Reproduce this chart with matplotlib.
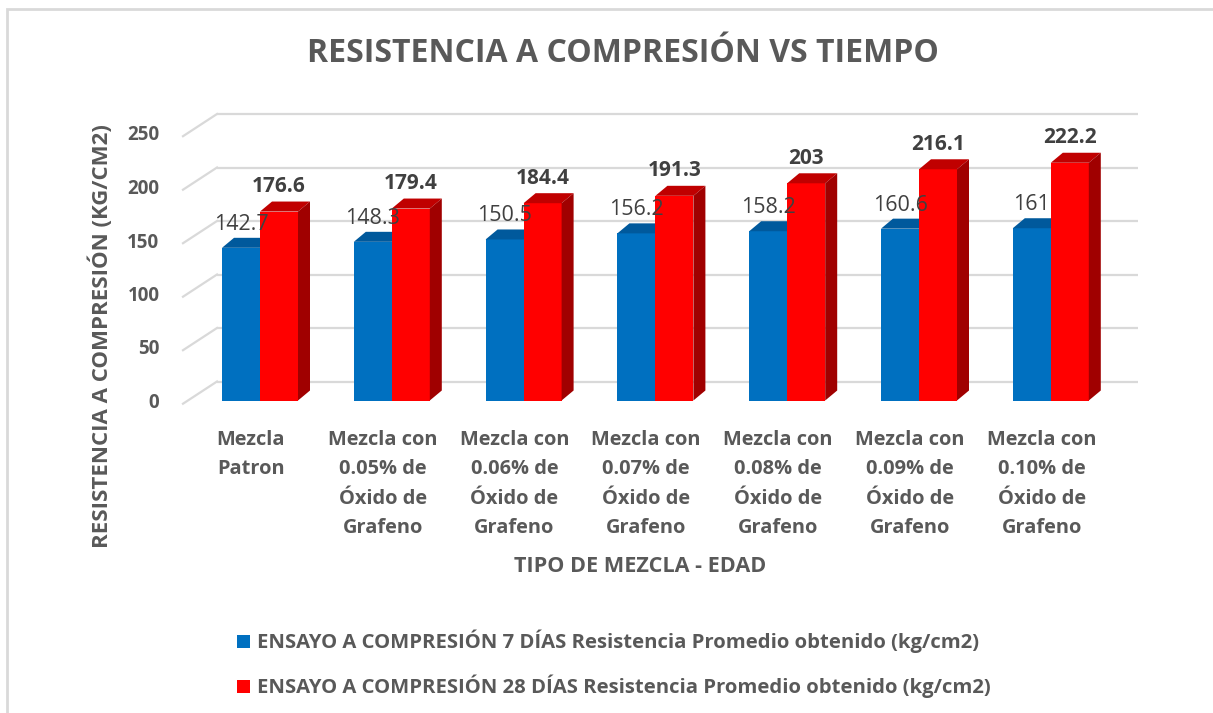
import matplotlib
matplotlib.use("Agg")
import matplotlib.pyplot as plt
from matplotlib.patches import Polygon, Rectangle
import numpy as np

plt.rcParams['font.family'] = ['Open Sans', 'DejaVu Sans']

categories = ["Mezcla\nPatron",
              "Mezcla con\n0.05% de\nÓxido de\nGrafeno",
              "Mezcla con\n0.06% de\nÓxido de\nGrafeno",
              "Mezcla con\n0.07% de\nÓxido de\nGrafeno",
              "Mezcla con\n0.08% de\nÓxido de\nGrafeno",
              "Mezcla con\n0.09% de\nÓxido de\nGrafeno",
              "Mezcla con\n0.10% de\nÓxido de\nGrafeno"]
dias7 = [142.7, 148.3, 150.5, 156.2, 158.2, 160.6, 161]
dias28 = [176.6, 179.4, 184.4, 191.3, 203, 216.1, 222.2]
labels7 = ["142.7", "148.3", "150.5", "156.2", "158.2", "160.6", "161"]
labels28 = ["176.6", "179.4", "184.4", "191.3", "203", "216.1", "222.2"]
yticks = [0, 50, 100, 150, 200, 250]
series_names = ["ENSAYO A COMPRESIÓN 7 DÍAS Resistencia Promedio obtenido (kg/cm2)",
                "ENSAYO A COMPRESIÓN 28 DÍAS Resistencia Promedio obtenido (kg/cm2)"]

W, H = 1213, 713
fig = plt.figure(figsize=(W / 100, H / 100), dpi=100)
fig.patch.set_facecolor('white')

# border
fig.add_artist(Rectangle((7 / W, -0.05), 1.2, (H - 9) / H + 0.05, transform=fig.transFigure,
                         fill=False, ec='#d9d9d9', lw=2))

# axes geometry (pixels)
px_per_cat = 131.8
px_per_unit = 1.07
x0_cat_px = 260.0
left_px, right_px = 183.0, 1104.0
zero_px = 400.5
ymax = 270
ax = fig.add_axes([left_px / W, (H - zero_px) / H, (right_px - left_px) / W, ymax * px_per_unit / H])
xlim = ((left_px - x0_cat_px) / px_per_cat, (right_px - x0_cat_px) / px_per_cat)
ax.set_xlim(*xlim)
ax.set_ylim(0, ymax)
for s in ax.spines.values():
    s.set_visible(False)
ax.patch.set_alpha(0)

# depth offsets of the walls and bars (converted to data units)
wdx = 34 / px_per_cat
wdy = 19 / px_per_unit
bdx = 12 / px_per_cat
bdy = 10 / px_per_unit

grid_c = '#d9d9d9'
for v in yticks:
    ax.plot([xlim[0] + wdx, xlim[1] + wdx], [v + wdy, v + wdy], color=grid_c, lw=1.6,
            clip_on=False, zorder=0, solid_capstyle='butt')
    ax.plot([xlim[0], xlim[0] + wdx], [v - 3, v + wdy], color=grid_c, lw=1.6,
            clip_on=False, zorder=0)

x = np.arange(len(categories))
bw = 38 / px_per_cat
blue, blue_top = '#0070C0', '#00599C'
red, red_top, red_side = '#FF0000', '#C00000', '#A00000'

bars7 = ax.bar(x - bw, dias7, width=bw, align='edge', color=blue, zorder=2, clip_on=False)
for xi, h in zip(x - bw, dias7):
    ax.add_patch(Polygon([(xi, h), (xi + bw, h), (xi + bw + bdx, h + bdy), (xi + bdx, h + bdy)],
                         closed=True, fc=blue_top, ec='none', zorder=2, clip_on=False))
bars28 = ax.bar(x, dias28, width=bw, align='edge', color=red, zorder=3, clip_on=False)
for xi, h in zip(x, dias28):
    ax.add_patch(Polygon([(xi, h), (xi + bw, h), (xi + bw + bdx, h + bdy), (xi + bdx, h + bdy)],
                         closed=True, fc=red_top, ec='none', zorder=3, clip_on=False))
    ax.add_patch(Polygon([(xi + bw, 0), (xi + bw + bdx, bdy), (xi + bw + bdx, h + bdy), (xi + bw, h)],
                         closed=True, fc=red_side, ec='none', zorder=3, clip_on=False))

txt_c = '#404040'
for xi, h, lab in zip(x - bw / 2, dias7, labels7):
    ax.annotate(lab, (xi, h), xytext=(0, 17), textcoords='offset points', ha='center', va='center',
                fontsize=15.5, color=txt_c, zorder=5)
for xi, h, lab in zip(x + bw / 2, dias28, labels28):
    ax.annotate(lab, (xi, h), xytext=(0, 18), textcoords='offset points', ha='center', va='center',
                fontsize=15, fontweight='bold', color=txt_c, zorder=5)

gray = '#595959'
ax.set_yticks(yticks)
ax.set_yticklabels([str(t) for t in yticks], fontsize=13.5, fontweight='bold', color=gray)
ax.tick_params(axis='y', length=0, pad=17)
ax.set_xticks(x - 0.07)
ax.set_xticklabels(categories, fontsize=14.4, fontweight='bold', color=gray, linespacing=1.64,
                   va='top')
ax.tick_params(axis='x', length=0, pad=21)

fig.text(623 / W, 1 - 53 / H, "RESISTENCIA A COMPRESIÓN VS TIEMPO", ha='center', va='center',
         fontsize=23, fontweight='bold', color=gray)
fig.text(101 / W, 1 - 336 / H, "RESISTENCIA A COMPRESIÓN (KG/CM2)", ha='center', va='center',
         rotation=90, fontsize=16, fontweight='bold', color=gray)
fig.text(640 / W, 1 - 566 / H, "TIPO DE MEZCLA - EDAD", ha='center', va='center',
         fontsize=15.6, fontweight='bold', color=gray)

# legend
for i, (name, c) in enumerate(zip(series_names, [blue, red])):
    yy = 1 - (641 + 45 * i) / H
    fig.add_artist(Rectangle((237 / W, yy - 6.5 / H), 13 / W, 13 / H, transform=fig.transFigure,
                             fc=c, ec='none'))
    fig.text(257 / W, yy, name, ha='left', va='center', fontsize=14.6, fontweight='bold', color=gray)

fig.savefig('out.png', dpi=100)
